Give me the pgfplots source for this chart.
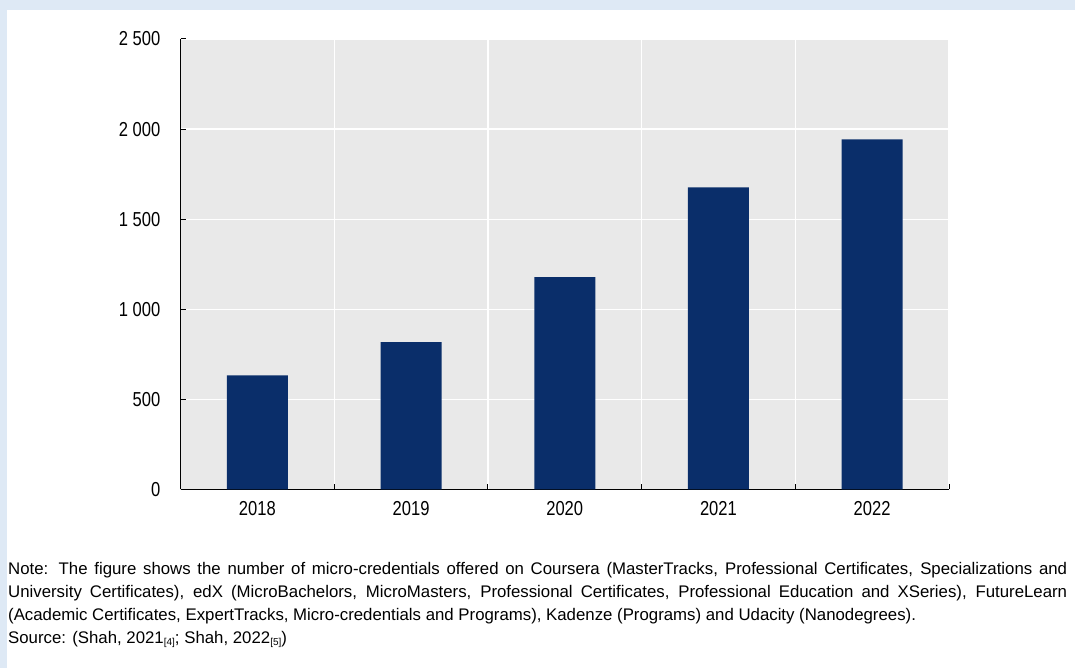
\documentclass[border=0pt]{standalone}
\usepackage{fontspec}
\setmainfont{Liberation Sans}
\newfontfamily\narrowfont{Liberation Sans}[FakeStretch=0.82]
\usepackage{pgfplots}
\pgfplotsset{compat=1.18}
\definecolor{framebl}{RGB}{222,233,245}
\definecolor{plotgray}{RGB}{233,233,233}
\definecolor{navy}{RGB}{10,46,106}
\begin{document}
\begin{tikzpicture}
\useasboundingbox (0bp,0bp) rectangle (1075bp,668bp);
\fill[white] (0bp,0bp) rectangle (1075bp,668bp);
\fill[framebl] (0bp,658bp) rectangle (1075bp,668bp);
\fill[framebl] (0bp,0bp) rectangle (7bp,668bp);
\begin{axis}[
  at={(180.5bp,178.5bp)}, anchor=south west,
  scale only axis, width=768.5bp, height=450.5bp,
  xmin=-0.5, xmax=4.5, ymin=0, ymax=2500,
  axis x line*=bottom, axis y line*=left,
  axis line style={black, line width=1.2bp},
  axis background/.style={fill=plotgray},
  xtick={0.5,1.5,2.5,3.5,4.5},
  xticklabels={},
  xmajorgrids,
  extra x ticks={0,1,2,3,4},
  extra x tick labels={2018,2019,2020,2021,2022},
  extra x tick style={grid=none, major tick length=0pt},
  ytick={0,500,1000,1500,2000,2500},
  ymajorgrids,
  grid style={white, line width=1.3bp},
  major grid style={white, line width=1.3bp},
  tick align=inside,
  major tick length=5bp,
  tick style={black, line width=1bp},
  /pgf/number format/assume math mode=true,
  /pgf/number format/1000 sep={\ },
  yticklabel style={font=\narrowfont\fontsize{20.2bp}{22bp}\selectfont, anchor=east, inner sep=0pt, xshift=-20bp},
  xticklabel style={font=\narrowfont\fontsize{20.2bp}{22bp}\selectfont, anchor=north, inner sep=0pt, yshift=-11.5bp},
]
\addplot[ybar, bar width=61bp, fill=navy, draw=none] coordinates {
  (0,634) (1,818) (2,1178) (3,1676) (4,1943)
};
\end{axis}
\node[anchor=base west, inner sep=0pt, text width=1059bp, align=justify,
      font=\fontsize{16.8bp}{23bp}\selectfont] at (8bp,93bp)
{Note: The figure shows the number of micro-credentials offered on Coursera (MasterTracks, Professional Certificates, Specializations and\linebreak University Certificates), edX (MicroBachelors, MicroMasters, Professional Certificates, Professional Education and XSeries), FutureLearn\linebreak (Academic Certificates, ExpertTracks, Micro-credentials and Programs), Kadenze (Programs) and Udacity (Nanodegrees).\par
Source: (Shah, 2021{\fontsize{10bp}{10bp}\selectfont\raisebox{-2bp}{[4]}}; Shah, 2022{\fontsize{10bp}{10bp}\selectfont\raisebox{-2bp}{[5]}})};
\end{tikzpicture}
\end{document}
